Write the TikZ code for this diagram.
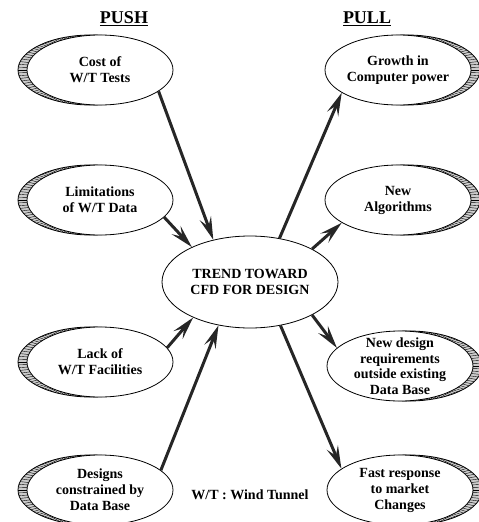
\documentclass[tikz,border=0pt]{standalone}
\usepackage{fontspec}
\setmainfont{Liberation Serif}
\usetikzlibrary{positioning}
\usetikzlibrary{shapes.geometric}
\usetikzlibrary{arrows.meta}

% hatched crescent behind an oval: #1,#2 centre, #3 sideways shift
\newcommand{\ovalshade}[3]{%
  \begin{scope}
    \clip (#1+#3,#2) ellipse [x radius=73, y radius=35];
    \fill[gray!40] (#1+#3,#2) ellipse [x radius=73, y radius=35];
    \foreach \a in {0,2,...,358} \draw[line width=0.4pt] (#1,#2) -- ++(\a:95);
  \end{scope}
  \draw[thick] (#1+#3,#2) ellipse [x radius=73, y radius=35];
}

\begin{document}
\begin{tikzpicture}[
    x=1pt, y=-1pt,
    oval/.style={ellipse, draw, thick, fill=white, inner sep=0pt, minimum width=146pt, minimum height=70pt},
    hub/.style={ellipse, draw, thick, fill=white, inner sep=0pt, minimum width=176pt, minimum height=92pt},
    txt/.style={align=center, font=\fontsize{14}{16}\selectfont\bfseries},
    title/.style={font=\fontsize{18}{21}\selectfont\bfseries},
    flow/.style={draw=black!85, line width=3pt,
        -{Stealth[length=23pt, width=12pt, inset=9pt]}}
]
    \useasboundingbox (0,0) rectangle (479,522);

    % Headings
    \node[title] (push) at (124,19) {\underline{PUSH}};
    \node[title] (pull) at (367,19) {\underline{PULL}};

    % Centre
    \node[hub] (trend) at (250,282) {};
    \node[txt] at (trend) {TREND TOWARD\\CFD FOR DESIGN};

    % Push side
    \ovalshade{100}{70}{-9}
    \node[oval] (cost) at (100,70) {};
    \node[txt] at (cost) {Cost of\\W/T Tests};

    \ovalshade{100}{200}{-9}
    \node[oval] (limits) at (100,200) {};
    \node[txt] at (limits) {Limitations\\of W/T Data};

    \ovalshade{100}{362}{-9}
    \node[oval] (lack) at (100,362) {};
    \node[txt] at (lack) {Lack of\\W/T Facilities};

    \ovalshade{100}{490}{-9}
    \node[oval] (designs) at (100,490) {};
    \node[txt] at (designs) {Designs\\constrained by\\Data Base};

    % Pull side
    \ovalshade{398}{70}{9}
    \node[oval] (growth) at (398,70) {};
    \node[txt] at (growth) {Growth in\\Computer power};

    \ovalshade{398}{200}{9}
    \node[oval] (algo) at (398,200) {};
    \node[txt] at (algo) {New\\Algorithms};

    \ovalshade{400}{366}{9}
    \node[oval] (reqs) at (400,366) {};
    \node[txt, font=\fontsize{14}{15.5}\selectfont\bfseries] at (reqs) {New design\\requirements\\outside existing\\Data Base};

    \ovalshade{400}{490}{9}
    \node[oval] (market) at (400,490) {};
    \node[txt] at (market) {Fast response\\to market\\Changes};

    % Note
    \node[txt] (note) at (250,495) {W/T : Wind Tunnel};

    % Arrows into the centre
    \draw[flow] (cost.-20) -- (trend.131);
    \draw[flow] (limits.-15) -- (trend.149);
    \draw[flow] (lack.12) -- (trend.212);
    \draw[flow] (designs.18) -- (trend.234);

    % Arrows out of the centre
    \draw[flow] (trend.56) -- (growth.202);
    \draw[flow] (trend.28) -- (algo.202);
    \draw[flow] (trend.-28) -- (reqs.164);
    \draw[flow] (trend.-55) -- (market.160);
\end{tikzpicture}
\end{document}
